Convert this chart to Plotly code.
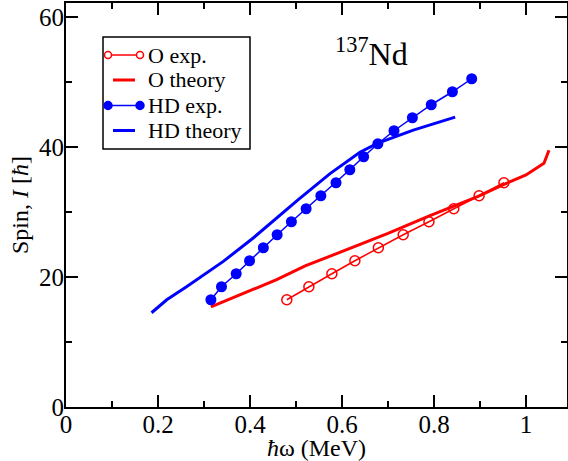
import plotly.graph_objects as go

# ---- data ----
o_exp_x = [0.480, 0.528, 0.578, 0.628, 0.679, 0.733, 0.789, 0.843, 0.898, 0.952]
o_exp_y = [16.5, 18.5, 20.5, 22.5, 24.5, 26.5, 28.5, 30.5, 32.5, 34.5]

o_th_x = [0.315, 0.458, 0.520, 0.600, 0.700, 0.790, 0.896, 0.951, 1.000, 1.039, 1.050]
o_th_y = [15.4, 19.6, 21.7, 23.9, 26.7, 29.4, 32.4, 34.2, 35.7, 37.5, 39.5]

hd_exp_x = [0.315, 0.338, 0.370, 0.399, 0.429, 0.459, 0.490, 0.522, 0.554,
            0.587, 0.617, 0.647, 0.678, 0.713, 0.753, 0.794, 0.840, 0.882]
hd_exp_y = [16.5, 18.5, 20.5, 22.5, 24.5, 26.5, 28.5, 30.5, 32.5,
            34.5, 36.5, 38.5, 40.5, 42.5, 44.5, 46.5, 48.5, 50.5]

hd_th_x = [0.186, 0.219, 0.262, 0.300, 0.342, 0.407, 0.460, 0.505, 0.574,
           0.639, 0.678, 0.755, 0.846]
hd_th_y = [14.5, 16.5, 18.5, 20.3, 22.4, 26.0, 29.2, 31.9, 35.9,
           39.2, 40.6, 42.6, 44.6]

series_names = ["O exp.", "O theory", "HD exp.", "HD theory"]

x_ticks = [0, 0.2, 0.4, 0.6, 0.8, 1]
x_tick_labels = ["0", "0.2", "0.4", "0.6", "0.8", "1"]
y_ticks = [0, 20, 40, 60]
y_tick_labels = ["0", "20", "40", "60"]

FONT = "Liberation Serif, Times New Roman, serif"
RED = "#ff0000"
BLUE = "#0000ff"

# plot-area geometry (pixels) used for layout-only placement (legend box, label)
L, R, T, B = 66, 567, 3, 407
W, H = 568, 461


def px(xp):
    return (xp - L) / (R - L)


def py(yp):
    return (B - yp) / (B - T)


fig = go.Figure()
fig.add_trace(go.Scatter(
    x=o_exp_x, y=o_exp_y, mode="lines+markers", name=series_names[0],
    line=dict(color=RED, width=1.5),
    marker=dict(symbol="circle-open", size=10, color=RED, line=dict(width=1.5, color=RED)),
))
fig.add_trace(go.Scatter(
    x=o_th_x, y=o_th_y, mode="lines", name=series_names[1],
    line=dict(color=RED, width=3),
))
fig.add_trace(go.Scatter(
    x=hd_exp_x, y=hd_exp_y, mode="lines+markers", name=series_names[2],
    line=dict(color=BLUE, width=1.5),
    marker=dict(symbol="circle", size=11, color=BLUE),
))
fig.add_trace(go.Scatter(
    x=hd_th_x, y=hd_th_y, mode="lines", name=series_names[3],
    line=dict(color=BLUE, width=3),
))

axis_common = dict(
    showgrid=False, zeroline=False, showline=True, linecolor="black", linewidth=2,
    mirror="ticks", ticks="inside", ticklen=12, tickwidth=1.5, tickcolor="black",
    tickfont=dict(family=FONT, size=25, color="black"),
)

fig.update_xaxes(
    **axis_common, range=[0, (R - L) / 460], tickmode="array", tickvals=x_ticks, ticktext=x_tick_labels,
    ticklabelstandoff=-6,
    minor=dict(ticks="inside", ticklen=6, tickwidth=1.5, tickcolor="black", dtick=0.1, tick0=0),
    title=dict(text="<i>ħ</i>ω (MeV)", font=dict(family=FONT, size=24, color="black"), standoff=7),
)
fig.update_yaxes(
    **axis_common, range=[0, (B - T) / 6.5], tickmode="array", tickvals=y_ticks, ticktext=y_tick_labels,
    ticklabelstandoff=-5,
    minor=dict(ticks="inside", ticklen=6, tickwidth=1.5, tickcolor="black", dtick=10, tick0=0),
    title=dict(text="Spin, <i>I</i> [<i>ħ</i>]", font=dict(family=FONT, size=24, color="black"), standoff=4),
)

# nucleus label
fig.add_annotation(
    xref="paper", yref="paper", x=px(371), y=py(52), xanchor="center", yanchor="middle",
    showarrow=False, text="<sup>137</sup>Nd", font=dict(family=FONT, size=32, color="black"),
)

# ---- legend box drawn like the reference (compact line spacing) ----
shapes = [dict(type="rect", xref="paper", yref="paper", x0=px(103), x1=px(250), y0=py(37), y1=py(149),
               line=dict(color="black", width=1.5), fillcolor="white", layer="above")]
rows = [55, 80, 105.5, 130.5]
styles = [("exp", RED, False), ("th", RED, None), ("exp", BLUE, True), ("th", BLUE, None)]
for name, yrow, (kind, col, filled) in zip(series_names, rows, styles):
    if kind == "exp":
        shapes.append(dict(type="line", xref="paper", yref="paper", x0=px(108), x1=px(140),
                           y0=py(yrow), y1=py(yrow), line=dict(color=col, width=1.5), layer="above"))
        r = 4 if filled else 3.5
        for cx in (108, 140):
            shapes.append(dict(type="circle", xref="paper", yref="paper",
                               x0=px(cx - r), x1=px(cx + r), y0=py(yrow + r), y1=py(yrow - r),
                               line=dict(color=col, width=1.5),
                               fillcolor=col if filled else "white", layer="above"))
    else:
        shapes.append(dict(type="line", xref="paper", yref="paper", x0=px(113), x1=px(135),
                           y0=py(yrow), y1=py(yrow), line=dict(color=col, width=3), layer="above"))
    fig.add_annotation(xref="paper", yref="paper", x=px(146), y=py(yrow), xanchor="left",
                       yanchor="middle", showarrow=False, text=name,
                       font=dict(family=FONT, size=22, color="black"))

fig.update_layout(
    width=W, height=H,
    margin=dict(l=L, r=W - R, t=T, b=H - B, autoexpand=False),
    paper_bgcolor="white", plot_bgcolor="white",
    font=dict(family=FONT, color="black"),
    showlegend=False,
    shapes=shapes,
)

fig.write_html(
    "out.html",
    config={"displayModeBar": False},
    post_script="document.body.style.margin='0';document.body.style.overflow='hidden';",
)
